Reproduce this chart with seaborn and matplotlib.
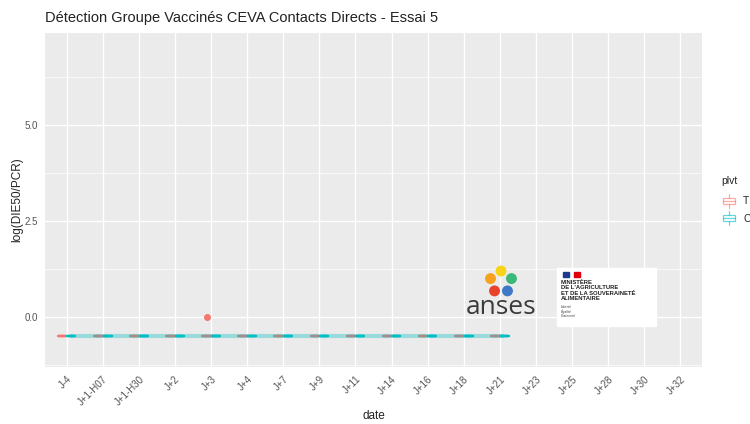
import numpy as np
import pandas as pd
import matplotlib
matplotlib.use("Agg")
import matplotlib.pyplot as plt
import matplotlib.patches as mpatches
from matplotlib.legend_handler import HandlerBase
import matplotlib.lines as mlines
import seaborn as sns

# categories on the x axis (later days have no data yet)
dates = ['J-4', 'J+1-H07', 'J+1-H30', 'J+2', 'J+3', 'J+4', 'J+7', 'J+9',
         'J+11', 'J+14', 'J+16', 'J+18', 'J+21', 'J+23', 'J+25', 'J+28',
         'J+30', 'J+32']
measured = dates[:13]

# values per group (log DIE50/PCR), negatives coded at -0.5
vals_T = [[-0.5, -0.5, -0.5], [-0.5, -0.5, -0.5], [-0.5, -0.5, -0.5],
          [-0.5, -0.5, -0.5], [-0.5, -0.5, -0.5, -0.5, 0.0],
          [-0.5, -0.5, -0.5], [-0.5, -0.5, -0.5], [-0.5, -0.5, -0.5],
          [-0.5, -0.5, -0.5], [-0.5, -0.5, -0.5], [-0.5, -0.5, -0.5],
          [-0.5, -0.5, -0.5], [-0.5, -0.5, -0.5]]
vals_C = [[-0.5, -0.5, -0.5]] * 13

rows = []
for d, tv, cv in zip(measured, vals_T, vals_C):
    rows += [(d, 'T', v) for v in tv]
    rows += [(d, 'C', v) for v in cv]
df = pd.DataFrame(rows, columns=['date', 'plvt', 'val'])

sns.set_theme(style='darkgrid')
plt.rcParams['font.family'] = ['Liberation Sans', 'DejaVu Sans']

fig = plt.figure(figsize=(7.5, 4.24), dpi=100)
ax = fig.add_axes([0.06, 0.1344, 0.876, 0.7876])
ax.set_facecolor('#EBEBEB')

pal = {'T': '#F8766D', 'C': '#00BFC4'}
sns.boxplot(data=df, x='date', y='val', hue='plvt', order=dates,
            hue_order=['T', 'C'], palette=pal, fill=False, width=0.5,
            gap=0.05, linewidth=1.6, ax=ax, legend=False,
            flierprops=dict(marker='o', markersize=4, markerfacecolor='#F8766D',
                            markeredgecolor='#F8766D'))

# C medians joined by a translucent line
medC = df[df.plvt == 'C'].groupby('date', sort=False)['val'].median()
ax.plot(np.arange(len(medC)) + 0.12, medC.values, color='#00BFC4',
        alpha=0.35, lw=3, zorder=5, solid_capstyle='butt')

ax.set_ylim(-1.3, 7.4)
ax.set_xlim(-0.6, len(dates) - 0.4)
ax.set_yticks([0, 2.5, 5.0])
ax.set_yticklabels(['0.0', '2.5', '5.0'])
ax.set_yticks([-1.25, 1.25, 3.75, 6.25], minor=True)
ax.grid(which='major', color='white', lw=1.0)
ax.grid(which='minor', axis='y', color='white', lw=0.5)
for s in ax.spines.values():
    s.set_visible(False)
ax.tick_params(axis='both', which='major', colors='#555555', labelsize=7,
               length=3, width=0.8, pad=2)
ax.tick_params(axis='y', which='minor', length=0)
plt.setp(ax.get_xticklabels(), rotation=45, ha='right', va='top',
         rotation_mode='anchor')

ax.set_xlabel('date', fontsize=8.5, color='#222222', labelpad=2)
ax.set_ylabel('log(DIE50/PCR)', fontsize=8.5, color='#222222', labelpad=1)
ax.set_title('Détection Groupe Vaccinés CEVA Contacts Directs - Essai 5',
             loc='left', fontsize=10.5, color='#222222', pad=8)


# ggplot-like boxplot legend keys
class BoxKey(HandlerBase):
    def create_artists(self, legend, orig, xd, yd, w, h, fontsize, trans):
        x0, y0 = -xd, -yd
        c = orig.get_edgecolor()
        kw = dict(color=c, lw=0.9, alpha=0.6, transform=trans)
        box = mpatches.Rectangle((x0 + w * 0.12, y0 + h * 0.3), w * 0.76,
                                 h * 0.4, facecolor='white', edgecolor=c,
                                 lw=0.9, alpha=0.6, transform=trans)
        mid = mlines.Line2D([x0 + w * 0.12, x0 + w * 0.88],
                            [y0 + h * 0.5] * 2, **kw)
        wt = mlines.Line2D([x0 + w / 2] * 2, [y0 + h * 0.7, y0 + h * 0.95], **kw)
        wb = mlines.Line2D([x0 + w / 2] * 2, [y0 + h * 0.05, y0 + h * 0.3], **kw)
        return [box, mid, wt, wb]


handles = [mpatches.Patch(facecolor='white', edgecolor=pal[k]) for k in ['T', 'C']]
leg = ax.legend(handles, ['T', 'C'], loc='upper left',
                bbox_to_anchor=(1.015, 0.6), frameon=False, title='plvt',
                fontsize=7.5, title_fontsize=7.5, handlelength=1.5,
                handleheight=1.9, labelspacing=0.2, handletextpad=0.6,
                handler_map={mpatches.Patch: BoxKey()})
leg._legend_box.align = 'left'
leg._legend_box.sep = 5

# anses logo
blob = [('#F6A21E', 162), ('#F7D417', 90), ('#3CB878', 18),
        ('#3D79C6', -54), ('#E8412C', -126)]
cx, cy, r = 501 / 750, 1 - 282 / 424, 11
for c, a in blob:
    t = np.deg2rad(a)
    fig.patches.append(mpatches.Ellipse(
        (cx + r * np.cos(t) / 750, cy + r * np.sin(t) / 424),
        9.5 / 750, 9.5 / 424, color=c, transform=fig.transFigure, zorder=6))
fig.text(501 / 750, 1 - 307 / 424, 'anses', ha='center', va='center',
         fontsize=19, color='#3a3a3a', zorder=6, family='Open Sans')

# ministry block
fig.patches.append(mpatches.Rectangle((557 / 750, 1 - 326 / 424), 99 / 750,
                   58 / 424, color='white', transform=fig.transFigure, zorder=6))
fig.patches.append(mpatches.Rectangle((563 / 750, 1 - 277 / 424), 6 / 750,
                   5 / 424, color='#1B3C8C', transform=fig.transFigure, zorder=7))
fig.patches.append(mpatches.Rectangle((574 / 750, 1 - 277 / 424), 6 / 750,
                   5 / 424, color='#E1000F', transform=fig.transFigure, zorder=7))
fig.text(561 / 750, 1 - 280 / 424,
         'MINISTÈRE\nDE L\'AGRICULTURE\nET DE LA SOUVERAINETÉ\nALIMENTAIRE',
         ha='left', va='top', fontsize=4.2, fontweight='bold', color='#222222',
         linespacing=1.05, zorder=7)
fig.text(561 / 750, 1 - 305 / 424, 'Liberté\nÉgalité\nFraternité',
         ha='left', va='top', fontsize=2.5, style='italic', color='#444444',
         linespacing=1.1, zorder=7)

fig.savefig('out.png', dpi=100)
